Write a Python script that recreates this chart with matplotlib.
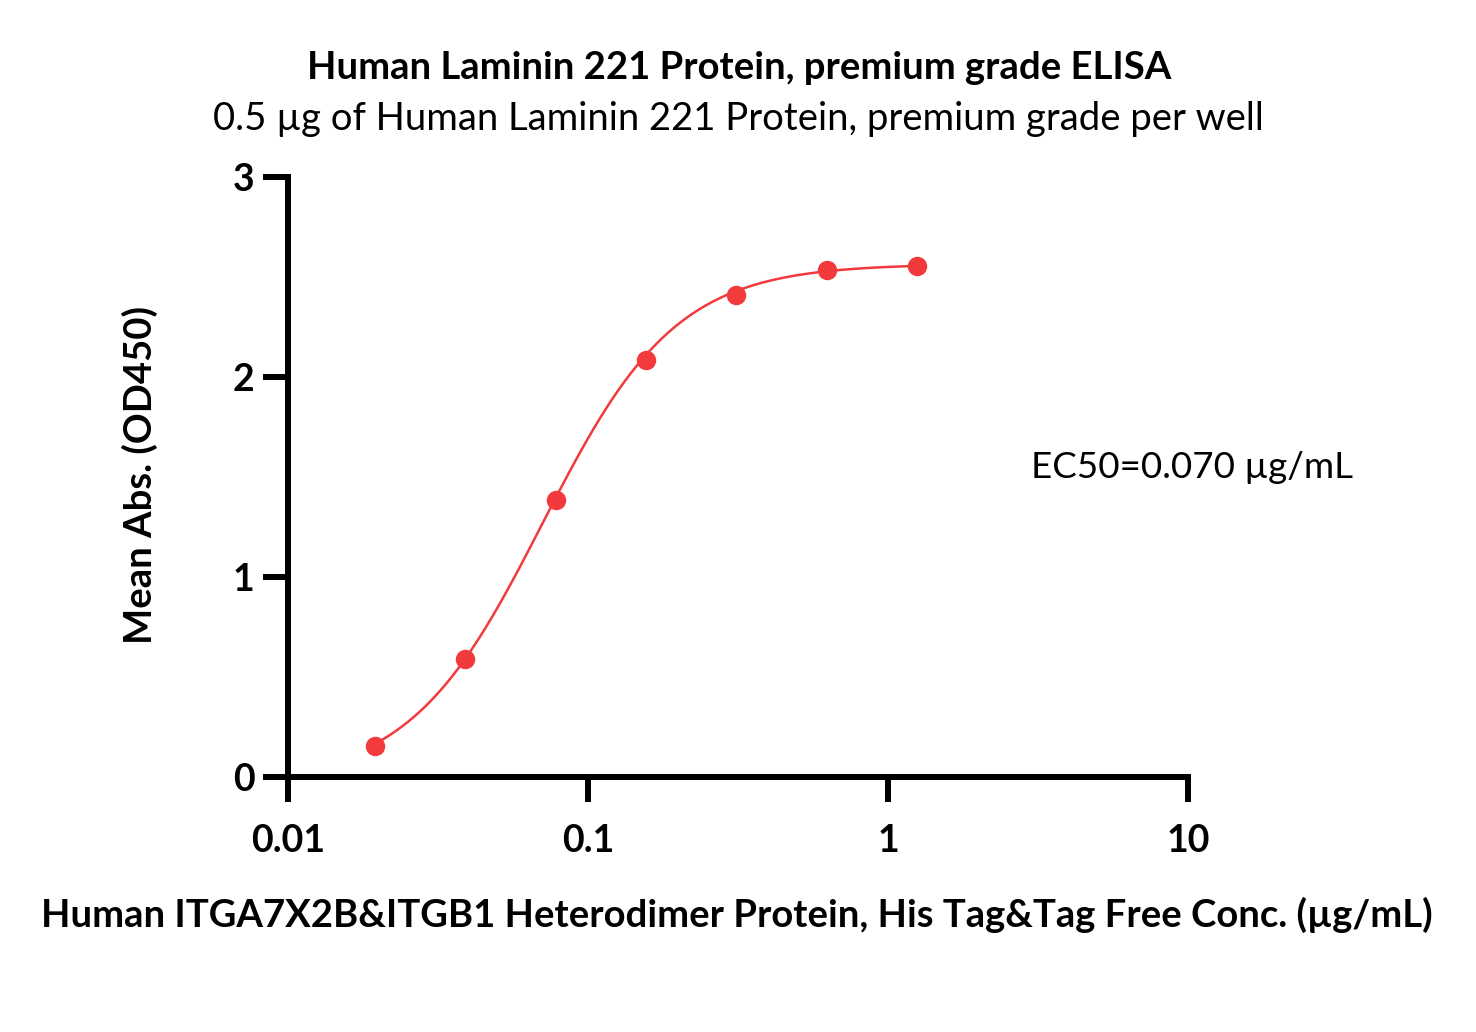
import numpy as np
import matplotlib
matplotlib.use("Agg")
import matplotlib.pyplot as plt
from matplotlib.ticker import FixedLocator, NullLocator

conc = [0.0195, 0.039, 0.078, 0.156, 0.3125, 0.625, 1.25]
od = [0.155, 0.59, 1.385, 2.085, 2.41, 2.535, 2.555]
# 4PL fit parameters
fit_bottom = -0.03
fit_top = 2.565
fit_ec50 = 0.0705
fit_hill = 1.95

xticks = [0.01, 0.1, 1, 10]
xticklabels = ["0.01", "0.1", "1", "10"]
yticks = [0, 1, 2, 3]

title = "Human Laminin 221 Protein, premium grade ELISA"
subtitle = "0.5 \u00b5g of Human Laminin 221 Protein, premium grade per well"
xlabel = "Human ITGA7X2B&ITGB1 Heterodimer Protein, His Tag&Tag Free Conc. (\u00b5g/mL)"
ylabel = "Mean Abs. (OD450)"
ec50_text = "EC50=0.070 \u00b5g/mL"

plt.rcParams['font.family'] = ['Lato', 'DejaVu Sans']

W, H = 1476, 1032
fig = plt.figure(figsize=(W / 100, H / 100), dpi=100)
ax = fig.add_axes([288 / W, 1 - 777 / H, (1188 - 288) / W, (777 - 177) / H])

xs = np.logspace(np.log10(conc[0]), np.log10(conc[-1]), 300)
ys = fit_bottom + (fit_top - fit_bottom) / (1 + (fit_ec50 / xs) ** fit_hill)
red = "#F23A3D"
ax.plot(xs, ys, color=red, lw=1.8, zorder=3)
ax.plot(conc, od, 'o', color=red, ms=13, mec=red, zorder=4)

ax.set_xscale('log')
ax.set_xlim(0.01, 10)
ax.set_ylim(0, 3)
ax.xaxis.set_major_locator(FixedLocator(xticks))
ax.xaxis.set_minor_locator(NullLocator())
ax.set_xticklabels(xticklabels)
ax.set_yticks(yticks)
ax.set_yticklabels([str(v) for v in yticks])

for s in ['top', 'right']:
    ax.spines[s].set_visible(False)
for s in ['left', 'bottom']:
    ax.spines[s].set_linewidth(4.3)
    ax.spines[s].set_capstyle('projecting')
ax.tick_params(axis='both', which='major', length=18, width=4.3, color='black',
               labelsize=27)
ax.tick_params(axis='y', pad=6)
ax.tick_params(axis='x', pad=16)
for lab in ax.get_xticklabels() + ax.get_yticklabels():
    lab.set_fontweight('bold')

fig.text(0.5 * (300 + 1178) / W, 1 - 68 / H, title, ha='center', va='center',
         fontsize=27.5, fontweight='bold')
fig.text(0.5 * (212 + 1264) / W, 1 - 119 / H, subtitle, ha='center', va='center',
         fontsize=27.5)
fig.text((42 + 1432) / 2 / W, 1 - 915 / H, xlabel, ha='center', va='center',
         fontsize=27.5, fontweight='bold')
fig.text(140 / W, 1 - 475 / H, ylabel, ha='center', va='center', rotation=90,
         fontsize=27.5, fontweight='bold')
fig.text(1192 / W, 1 - 467 / H, ec50_text, ha='center', va='center', fontsize=26.5)

fig.savefig("out.png", dpi=100, facecolor='white')
